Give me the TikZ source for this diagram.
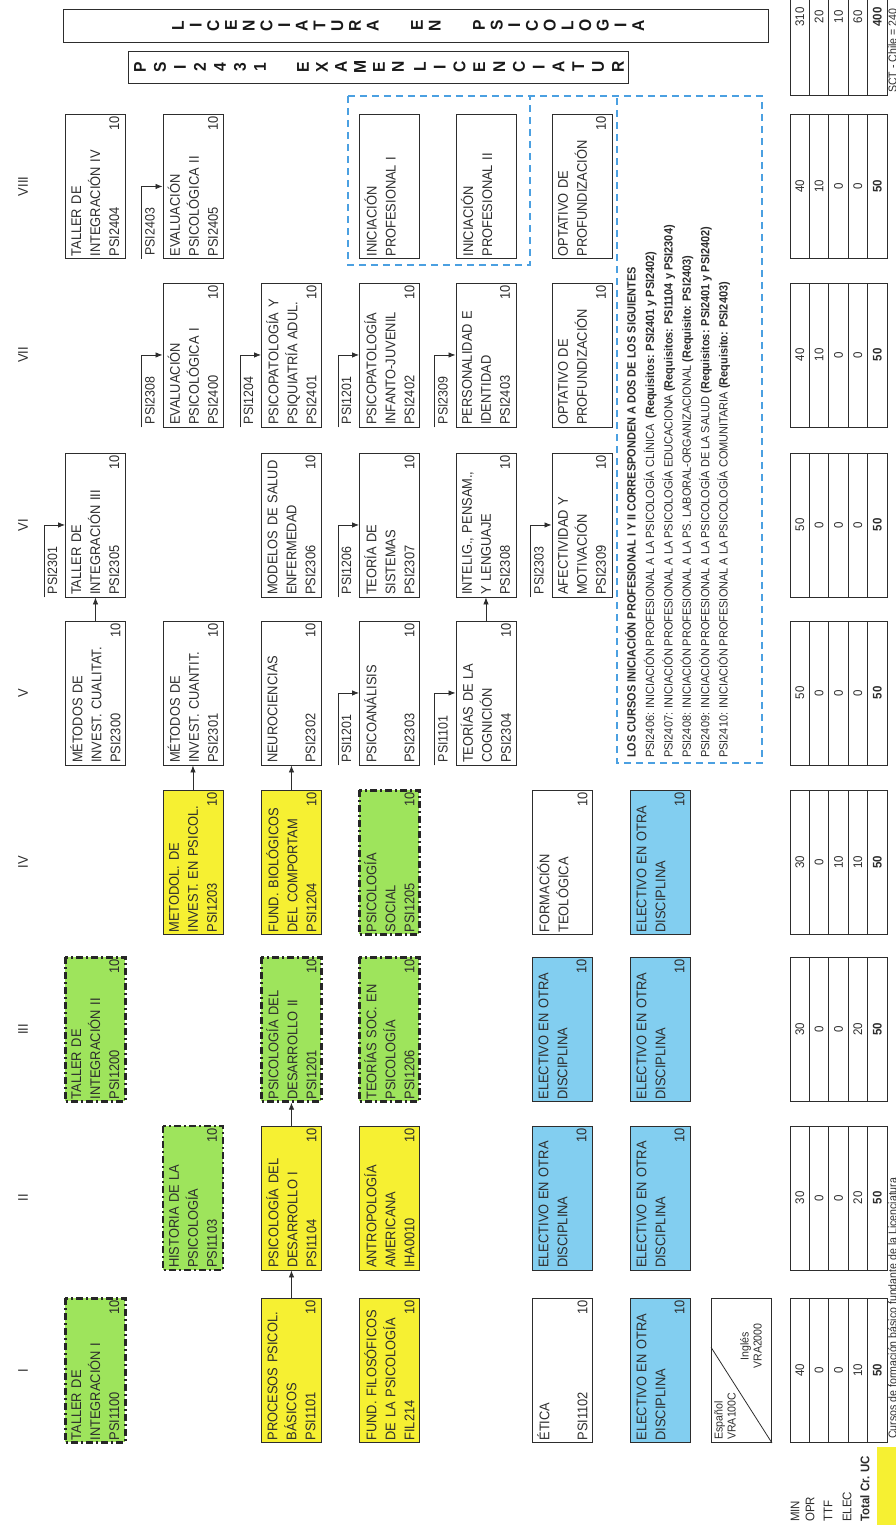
\documentclass[tikz,border=0pt]{standalone}
\usepackage{fontspec}
\setmainfont{Liberation Sans}[FakeStretch=0.92]
\usepackage{tikz}
\usetikzlibrary{arrows.meta, positioning, calc}

\definecolor{amarillo}{RGB}{246,240,50}
\definecolor{verde}{RGB}{158,228,92}
\definecolor{celeste}{RGB}{130,206,240}
\definecolor{azulnota}{RGB}{75,160,225}
\definecolor{tinta}{RGB}{45,45,45}

\begin{document}
\begin{tikzpicture}[
    x=1pt, y=1pt,
    curso/.style={draw=tinta, line width=0.9pt, text=tinta, text width=140pt, minimum height=60pt, inner xsep=2pt, inner ysep=0pt, align=left, font=\fontsize{14}{19}\selectfont},
    basico/.style={curso, fill=amarillo},
    taller/.style={curso, fill=verde, draw=black!85, line width=2.4pt, dash pattern=on 7pt off 3pt on 2pt off 3pt},
    electivo/.style={curso, fill=celeste},
    celda/.style={draw=tinta, line width=0.8pt, minimum width=144pt, minimum height=19.4pt, inner sep=0pt, text=tinta, font=\fontsize{12.5}{14}\selectfont},
    req/.style={anchor=base west, inner sep=0pt, text=tinta, font=\fontsize{13.5}{15}\selectfont},
    flecha/.style={draw=tinta, line width=0.8pt, -{Latex[length=7pt, width=5.5pt]}},
    nota/.style={draw=azulnota, line width=1.3pt, dash pattern=on 7pt off 5pt},
    sem/.style={text=tinta, inner sep=0pt, font=\fontsize{14}{16}\selectfont},
    letra/.style={text=black!90, inner sep=0pt, font=\bfseries\fontsize{17}{19}\selectfont},
    fila/.style={anchor=west, inner sep=0pt, text=tinta, font=\fontsize{12.5}{14}\selectfont},
    leyenda/.style={anchor=base west, inner sep=0pt, text=tinta, font=\fontsize{11.5}{14}\selectfont},
]
\begin{scope}[rotate=90, transform shape]
\useasboundingbox (0,0) rectangle (1525,896);

% semestres
\foreach \s/\x [count=\i] in {I/154.5, II/327, III/495.5, IV/662.5, V/832, VI/1000, VII/1170, VIII/1338.5}
    \node[sem] (sem\i) at (\x, 873) {\s};

% I
\node[taller] (psi1100) at (154.5, 800.5) {TALLER DE\\INTEGRACIÓN I\\PSI1100\hfill 10};
\node[basico] (psi1101) at (154.5, 604.5) {PROCESOS PSICOL.\\BÁSICOS\\PSI1101\hfill 10};
\node[basico] (fil214) at (154.5, 506.5) {FUND. FILOSÓFICOS\\DE LA PSICOLOGÍA\\FIL214\hfill 10};
\node[curso] (psi1102) at (154.5, 333.5) {ÉTICA\\\mbox{}\\PSI1102\hfill 10};
\node[electivo] (elec1) at (154.5, 235.5) {ELECTIVO EN OTRA\\DISCIPLINA\\\mbox{}\hfill 10};
\node[curso] (idioma) at (154.5, 154.5) {\mbox{}};
\node[anchor=north west, inner sep=0pt, align=left, text=tinta, font=\fontsize{11.5}{13}\selectfont] (espanol) at ($(idioma.north west)+(3,-3)$) {Español\\VRA100C};
\node[inner sep=0pt, align=center, text=tinta, font=\fontsize{11.5}{13}\selectfont] (ingles) at ($(idioma.south east)+(-48,21)$) {Inglés\\VRA2000};
\draw[tinta, line width=0.8pt] (idioma.south west) -- ($(idioma.north west)!0.66!(idioma.north east)$);

% II
\node[taller] (psi1103) at (327, 703) {HISTORIA DE LA\\PSICOLOGÍA\\PSI1103\hfill 10};
\node[basico] (psi1104) at (327, 604.5) {PSICOLOGÍA DEL\\DESARROLLO I\\PSI1104\hfill 10};
\node[basico] (iha0010) at (327, 506.5) {ANTROPOLOGÍA\\AMERICANA\\IHA0010\hfill 10};
\node[electivo] (elec2a) at (327, 333.5) {ELECTIVO EN OTRA\\DISCIPLINA\\\mbox{}\hfill 10};
\node[electivo] (elec2b) at (327, 235.5) {ELECTIVO EN OTRA\\DISCIPLINA\\\mbox{}\hfill 10};

% III
\node[taller] (psi1200) at (495.5, 800.5) {TALLER DE\\INTEGRACIÓN II\\PSI1200\hfill 10};
\node[taller] (psi1201) at (495.5, 604.5) {PSICOLOGÍA DEL\\DESARROLLO II\\PSI1201\hfill 10};
\node[taller] (psi1206) at (495.5, 506.5) {TEORÍAS SOC. EN\\PSICOLOGÍA\\PSI1206\hfill 10};
\node[electivo] (elec3a) at (495.5, 333.5) {ELECTIVO EN OTRA\\DISCIPLINA\\\mbox{}\hfill 10};
\node[electivo] (elec3b) at (495.5, 235.5) {ELECTIVO EN OTRA\\DISCIPLINA\\\mbox{}\hfill 10};

% IV
\node[basico] (psi1203) at (662.5, 703) {METODOL. DE\\INVEST. EN PSICOL.\\PSI1203\hfill 10};
\node[basico] (psi1204) at (662.5, 604.5) {FUND. BIOLÓGICOS\\DEL COMPORTAM\\PSI1204\hfill 10};
\node[taller] (psi1205) at (662.5, 506.5) {PSICOLOGÍA\\SOCIAL\\PSI1205\hfill 10};
\node[curso] (teol) at (662.5, 333.5) {FORMACIÓN\\TEOLÓGICA\\\mbox{}\hfill 10};
\node[electivo] (elec4) at (662.5, 235.5) {ELECTIVO EN OTRA\\DISCIPLINA\\\mbox{}\hfill 10};

% V
\node[curso] (psi2300) at (832, 800.5) {MÉTODOS DE\\INVEST. CUALITAT.\\PSI2300\hfill 10};
\node[curso] (psi2301) at (832, 703) {MÉTODOS DE\\INVEST. CUANTIT.\\PSI2301\hfill 10};
\node[curso] (psi2302) at (832, 604.5) {NEUROCIENCIAS\\\mbox{}\\PSI2302\hfill 10};
\node[curso] (psi2303) at (832, 506.5) {PSICOANÁLISIS\\\mbox{}\\PSI2303\hfill 10};
\node[curso] (psi2304) at (832, 410) {TEORÍAS DE LA\\COGNICIÓN\\PSI2304\hfill 10};

% VI
\node[curso] (psi2305) at (1000, 800.5) {TALLER DE\\INTEGRACIÓN III\\PSI2305\hfill 10};
\node[curso] (psi2306) at (1000, 604.5) {MODELOS DE SALUD\\ENFERMEDAD\\PSI2306\hfill 10};
\node[curso] (psi2307) at (1000, 506.5) {TEORÍA DE\\SISTEMAS\\PSI2307\hfill 10};
\node[curso] (psi2308) at (1000, 410) {INTELIG.,  PENSAM.,\\Y LENGUAJE\\PSI2308\hfill 10};
\node[curso] (psi2309) at (1000, 314) {AFECTIVIDAD Y\\MOTIVACIÓN\\PSI2309\hfill 10};

% VII
\node[curso] (psi2400) at (1170, 703) {EVALUACIÓN\\PSICOLÓGICA I\\PSI2400\hfill 10};
\node[curso] (psi2401) at (1170, 604.5) {PSICOPATOLOGÍA Y\\PSIQUIATRÍA ADUL.\\PSI2401\hfill 10};
\node[curso] (psi2402) at (1170, 506.5) {PSICOPATOLOGÍA\\INFANTO-JUVENIL\\PSI2402\hfill 10};
\node[curso] (psi2403) at (1170, 410) {PERSONALIDAD E\\IDENTIDAD\\PSI2403\hfill 10};
\node[curso] (opt7) at (1170, 314) {OPTATIVO DE\\PROFUNDIZACIÓN\\\mbox{}\hfill 10};

% VIII
\node[curso] (psi2404) at (1338.5, 800.5) {TALLER DE\\INTEGRACIÓN IV\\PSI2404\hfill 10};
\node[curso] (psi2405) at (1338.5, 703) {EVALUACIÓN\\PSICOLÓGICA II\\PSI2405\hfill 10};
\node[curso] (inic1) at (1338.5, 506.5) {INICIACIÓN\\PROFESIONAL I\\\mbox{}};
\node[curso] (inic2) at (1338.5, 410) {INICIACIÓN\\PROFESIONAL II\\\mbox{}};
\node[curso] (opt8) at (1338.5, 314) {OPTATIVO DE\\PROFUNDIZACIÓN\\\mbox{}\hfill 10};

% prerrequisitos
\draw[flecha] (psi1101) -- (psi1104);
\draw[flecha] (psi1104) -- (psi1201);
\draw[flecha] (psi1203) -- (psi2301);
\draw[flecha] (psi1204) -- (psi2302);
\draw[flecha] (psi2300) -- (psi2305);
\draw[flecha] (psi2304) -- (psi2308);

\foreach \cod/\dest in {PSI2301/psi2305, PSI1206/psi2307, PSI2303/psi2309, PSI1201/psi2303, PSI1101/psi2304, PSI2308/psi2400, PSI1204/psi2401, PSI1201/psi2402, PSI2309/psi2403, PSI2403/psi2405} {
    \coordinate (\dest-a) at ($(\dest.north west)+(0,21)$);
    \node[req] (\dest-r) at ($(\dest.north west)+(3,8)$) {\cod};
    \draw[flecha] (\dest-a) -- ($(\dest.north)+(0,21)$) -- (\dest.north);
}

% recuadros punteados
\draw[nota] (1429,548) -- (1260,548) -- (1260,366) -- (1429,366);
\draw[nota] (1429,548) -- (1429,134) -- (762,134) -- (762,279) -- (1429,279);
\node[anchor=north west, inner sep=0pt, align=left, text=tinta, font=\fontsize{11.9}{18.4}\selectfont] (notaiprof) at (767, 271) {%
\textbf{LOS CURSOS INICIACIÓN PROFESIONAL I Y II CORRESPONDEN A DOS DE LOS SIGUIENTES}\\
PSI2406: INICIACIÓN PROFESIONAL A LA PSICOLOGÍA CLÍNICA~ \textbf{(Requisitos: PSI2401 y PSI2402)}\\
PSI2407: INICIACIÓN PROFESIONAL A LA PSICOLOGÍA EDUCACIONA \textbf{(Requisitos: PSI1104 y PSI2304)}\\
PSI2408: INICIACIÓN PROFESIONAL A LA PS. LABORAL-ORGANIZACIONAL \textbf{(Requisito: PSI2403)}\\
PSI2409: INICIACIÓN PROFESIONAL A LA PSICOLOGÍA DE LA SALUD \textbf{(Requisitos: PSI2401 y PSI2402)}\\
PSI2410: INICIACIÓN PROFESIONAL A LA PSICOLOGÍA COMUNITARIA \textbf{(Requisito: PSI2403)}};

% licenciatura / examen
\node[draw=tinta, line width=0.9pt, minimum width=33pt, minimum height=705pt, inner sep=0pt] (titulo) at (1499.5, 480.5) {};
\foreach \c [count=\i from 0] in {L,I,C,E,N,C,I,A,T,U,R,A}
    \node[letra] (lic\i) at (1499.5, 718-17.7*\i) {\c};
\foreach \c [count=\i from 0] in {E,N}
    \node[letra] (en\i) at (1499.5, 479-17.7*\i) {\c};
\foreach \c [count=\i from 0] in {P,S,I,C,O,L,O,G,I,A}
    \node[letra] (pal\i) at (1499.5, 417-17.7*\i) {\c};

\node[draw=tinta, line width=0.9pt, minimum width=32pt, minimum height=500pt, inner sep=0pt] (examen) at (1458, 518) {};
\foreach \c [count=\i from 0] in {P,S,I,2,4,3,1}
    \node[letra] (cod\i) at (1458, 756-20*\i) {\c};
\foreach \c [count=\i from 0] in {E,X,A,M,E,N}
    \node[letra] (exa\i) at (1458, 593-19*\i) {\c};
\foreach \c [count=\i from 0] in {L,I,C,E,N,C,I,A,T,U,R}
    \node[letra] (lcn\i) at (1458, 476-19.8*\i) {\c};

% creditos
\foreach \x/\a/\b/\c/\d [count=\i] in {154.5/40/0/0/10, 327/30/0/0/20, 495.5/30/0/0/20, 662.5/30/0/10/10, 832/50/0/0/0, 1000/50/0/0/0, 1170/40/10/0/0, 1338.5/40/10/0/0} {
    \node[celda] (t\i-1) at (\x, 96.3) {\a};
    \node[celda] (t\i-2) at (\x, 76.9) {\b};
    \node[celda] (t\i-3) at (\x, 57.5) {\c};
    \node[celda] (t\i-4) at (\x, 38.1) {\d};
    \node[celda, font=\bfseries\fontsize{12.5}{14}\selectfont] (t\i-5) at (\x, 18.7) {50};
}
\node[celda, minimum width=156pt] (tot-1) at (1508, 96.3) {310};
\node[celda, minimum width=156pt] (tot-2) at (1508, 76.9) {20};
\node[celda, minimum width=156pt] (tot-3) at (1508, 57.5) {10};
\node[celda, minimum width=156pt] (tot-4) at (1508, 38.1) {60};
\node[celda, minimum width=156pt, font=\bfseries\fontsize{12.5}{14}\selectfont] (tot-5) at (1508, 18.7) {400};

\node[fila] (lmin) at (3, 101) {MIN};
\node[fila] (lopr) at (3, 86) {OPR};
\node[fila] (lttf) at (3, 68) {TTF};
\node[fila] (lelec) at (3, 49) {ELEC};
\node[fila, font=\bfseries\fontsize{12.5}{14}\selectfont] (ltotal) at (3, 31) {Total Cr. UC};

\node[fill=amarillo, minimum width=78pt, minimum height=19pt, inner sep=0pt, anchor=south west] (muestra) at (0,0) {};
\node[leyenda] (txtley) at (86,-0.5) {Cursos de formación básico fundante de la Licenciatura};
\node[leyenda] (sct) at (1432,-0.5) {SCT - Chile = 240};
\end{scope}
\end{tikzpicture}
\end{document}
